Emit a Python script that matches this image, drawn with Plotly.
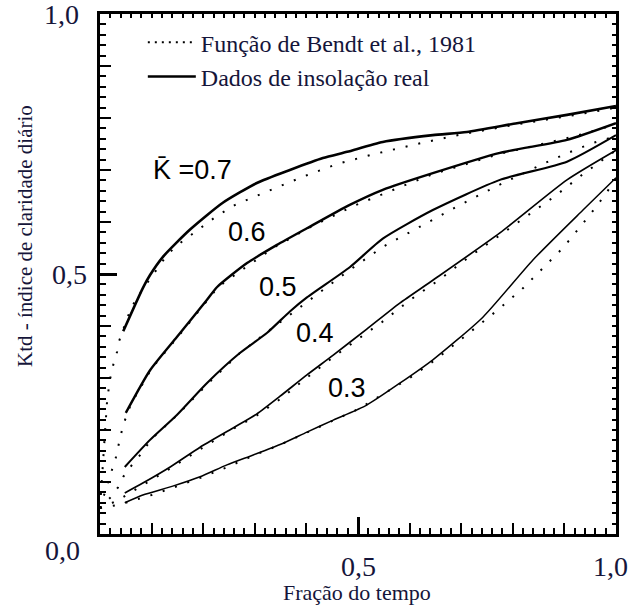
import plotly.graph_objects as go

# ---------------- data ----------------
# Solid curves: "Dados de insolação real"
frac_07 = [0.045, 0.083, 0.097, 0.122, 0.174, 0.238, 0.304, 0.368, 0.432, 0.479, 0.548, 0.645, 0.711, 0.808, 0.905, 1.0]
ktd_07 = [0.390, 0.473, 0.498, 0.533, 0.585, 0.637, 0.675, 0.700, 0.723, 0.735, 0.754, 0.767, 0.773, 0.790, 0.806, 0.823]

frac_06 = [0.050, 0.097, 0.149, 0.207, 0.227, 0.285, 0.343, 0.401, 0.484, 0.548, 0.645, 0.775, 0.905, 1.0]
ktd_06 = [0.233, 0.315, 0.379, 0.450, 0.475, 0.521, 0.556, 0.588, 0.633, 0.662, 0.694, 0.733, 0.758, 0.790]

frac_05 = [0.048, 0.097, 0.149, 0.207, 0.271, 0.324, 0.368, 0.401, 0.484, 0.548, 0.645, 0.775, 0.905, 1.0]
ktd_05 = [0.129, 0.181, 0.229, 0.290, 0.348, 0.387, 0.428, 0.455, 0.513, 0.568, 0.623, 0.681, 0.716, 0.767]

frac_04 = [0.048, 0.083, 0.136, 0.194, 0.258, 0.304, 0.349, 0.401, 0.452, 0.517, 0.581, 0.645, 0.775, 0.905, 1.0]
ktd_04 = [0.079, 0.098, 0.129, 0.167, 0.204, 0.231, 0.265, 0.306, 0.344, 0.394, 0.444, 0.488, 0.579, 0.681, 0.738]

frac_03 = [0.048, 0.083, 0.141, 0.194, 0.246, 0.297, 0.349, 0.401, 0.452, 0.517, 0.581, 0.645, 0.742, 0.839, 0.936, 1.0]
ktd_03 = [0.060, 0.075, 0.092, 0.110, 0.133, 0.152, 0.172, 0.196, 0.219, 0.248, 0.290, 0.335, 0.417, 0.527, 0.623, 0.685]

# Dotted curves: "Função de Bendt et al., 1981"
bfrac_07 = [0.0, 0.003, 0.006, 0.010, 0.014, 0.020, 0.027, 0.033, 0.037, 0.058, 0.068, 0.083, 0.126, 0.145, 0.171, 0.198,
            0.227, 0.262, 0.302, 0.349, 0.401, 0.461, 0.533, 0.614, 0.703, 0.810, 0.934, 1.0]
bktd_07 = [0.05, 0.10, 0.15, 0.20, 0.26, 0.30, 0.331, 0.350, 0.371, 0.429, 0.448, 0.471, 0.531, 0.552, 0.571, 0.590,
           0.612, 0.633, 0.650, 0.669, 0.690, 0.712, 0.731, 0.750, 0.769, 0.788, 0.808, 0.820]

bfrac_06 = [0.0, 0.008, 0.016, 0.024, 0.031, 0.035, 0.041, 0.045, 0.060, 0.100, 0.150, 0.229, 0.281, 0.339, 0.411,
            0.492, 0.591, 0.645, 0.775, 0.921, 1.0]
bktd_06 = [0.05, 0.075, 0.10, 0.125, 0.148, 0.167, 0.19, 0.21, 0.25, 0.318, 0.378, 0.475, 0.512, 0.552, 0.592,
           0.631, 0.671, 0.692, 0.731, 0.765, 0.788]

bfrac_05 = [0.0, 0.012, 0.025, 0.035, 0.045, 0.062, 0.078, 0.10, 0.15, 0.21, 0.27, 0.33, 0.40, 0.48, 0.548, 0.618,
            0.694, 0.773, 0.859, 0.907, 0.955, 1.0]
bktd_05 = [0.05, 0.062, 0.075, 0.09, 0.110, 0.133, 0.152, 0.183, 0.229, 0.29, 0.347, 0.393, 0.445, 0.505, 0.552, 0.590,
           0.631, 0.671, 0.712, 0.733, 0.752, 0.765]

bfrac_04 = [0.0, 0.02, 0.04, 0.06, 0.083, 0.136, 0.194, 0.258, 0.304, 0.35, 0.40, 0.452, 0.50, 0.547, 0.601, 0.659,
            0.713, 0.769, 0.826, 0.882, 0.936, 1.0]
bktd_04 = [0.05, 0.058, 0.068, 0.08, 0.094, 0.126, 0.163, 0.202, 0.228, 0.26, 0.30, 0.34, 0.375, 0.408, 0.450, 0.490,
           0.531, 0.571, 0.610, 0.650, 0.692, 0.738]

bfrac_03 = [0.0, 0.03, 0.06, 0.10, 0.15, 0.20, 0.25, 0.30, 0.35, 0.40, 0.45, 0.50, 0.55, 0.60, 0.65, 0.721, 0.771,
            0.818, 0.859, 0.897, 0.930, 0.963, 0.992, 1.0]
bktd_03 = [0.05, 0.055, 0.063, 0.075, 0.092, 0.11, 0.13, 0.152, 0.172, 0.195, 0.218, 0.24, 0.27, 0.30, 0.335, 0.392,
           0.431, 0.471, 0.512, 0.55, 0.590, 0.631, 0.671, 0.68]

curve_labels = ["K\u0304 =0.7", "0.6", "0.5", "0.4", "0.3"]
label_x = [0.18, 0.285, 0.345, 0.417, 0.479]
label_y = [0.70, 0.581, 0.475, 0.387, 0.281]

legend_names = ["Função de Bendt et al., 1981", "Dados de insolação real"]
x_title = "Fração do tempo"
y_title = "Ktd - índice de claridade diário"
x_tick_vals = [0.5, 1.0]
x_tick_text = ["0,5", "1,0"]
y_tick_vals = [0.5, 1.0]
y_tick_text = ["0,5", "1,0"]
origin_text = "0,0"

# ---------------- figure ----------------
W, H = 632, 605
ML, MR, MT, MB = 100, 16, 14, 71
PW, PH = W - ML - MR, H - MT - MB

TXT = "#15153a"
SERIF = "Liberation Serif, Times New Roman, serif"
SANS = "Liberation Sans Narrow, Arial Narrow, Liberation Sans, Arial, sans-serif"

fig = go.Figure()

solid = [(frac_07, ktd_07, 2.6), (frac_06, ktd_06, 2.4), (frac_05, ktd_05, 2.1),
         (frac_04, ktd_04, 1.7), (frac_03, ktd_03, 1.5)]
dotted = [(bfrac_07, bktd_07), (bfrac_06, bktd_06), (bfrac_05, bktd_05),
          (bfrac_04, bktd_04), (bfrac_03, bktd_03)]

# dotted (Bendt) curves live on the overlay axes x3/y3
for bx, by in dotted:
    fig.add_trace(go.Scatter(x=bx, y=by, mode="lines", showlegend=False, hoverinfo="skip",
                             xaxis="x3", yaxis="y3",
                             line=dict(color="black", width=2, dash="2px,11px")))
# measured curves on the main axes
for sx, sy, w in solid:
    fig.add_trace(go.Scatter(x=sx, y=sy, mode="lines", showlegend=False, hoverinfo="skip",
                             line=dict(color="black", width=w, shape="spline", smoothing=0.6)))

# legend-only entries (on overlay axes x2/y2)
fig.add_trace(go.Scatter(x=[None], y=[None], mode="lines", name=legend_names[0], legendgroup="a",
                         xaxis="x2", yaxis="y2",
                         line=dict(color="black", width=2, dash="2px,5px")))
fig.add_trace(go.Scatter(x=[None], y=[None], mode="lines", name=legend_names[1], legendgroup="b",
                         xaxis="x2", yaxis="y2",
                         line=dict(color="black", width=2.6)))

common = dict(range=[0, 1], showgrid=False, zeroline=False, showticklabels=False)

main_axis = dict(common, showline=True, linewidth=2.8, linecolor="black", mirror=True,
                 ticks="inside", tickmode="linear", tick0=0, dtick=0.1,
                 ticklen=11, tickwidth=2, tickcolor="black",
                 minor=dict(ticks="inside", tick0=0, dtick=0.02, ticklen=6,
                            tickwidth=1.5, tickcolor="black"))
half_axis = dict(common, showline=False, ticks="inside", tickmode="array", tickvals=[0.5],
                 ticklen=17, tickwidth=2.8, tickcolor="black")
fine_axis = dict(common, showline=False, ticks="inside", tickmode="linear", tick0=0, dtick=0.02,
                 ticklen=4, tickwidth=1.8, tickcolor="black")

fig.update_layout(
    width=W, height=H,
    margin=dict(l=ML, r=MR, t=MT, b=MB),
    paper_bgcolor="white", plot_bgcolor="white",
    xaxis=main_axis,
    yaxis=main_axis,
    xaxis2=dict(fine_axis, overlaying="x", side="top", anchor="y2"),
    yaxis2=dict(fine_axis, overlaying="y", side="right", anchor="x2"),
    xaxis3=dict(half_axis, overlaying="x", side="bottom", anchor="y3"),
    yaxis3=dict(half_axis, overlaying="y", side="left", anchor="x3"),
    showlegend=True,
    legend=dict(x=0.083, y=0.988, xanchor="left", yanchor="top", bgcolor="rgba(0,0,0,0)",
                font=dict(family=SERIF, size=24, color=TXT), itemwidth=48,
                tracegroupgap=0, traceorder="grouped"),
)

def px2paper_x(px):
    return (px - ML) / PW

def px2paper_y(py):
    return (H - MB - py) / PH

annots = []
# curve labels
for t, lx, ly in zip(curve_labels, label_x, label_y):
    annots.append(dict(x=lx, y=ly, xref="x", yref="y", text=t, showarrow=False,
                       font=dict(family=SANS, size=27, color="black")))
# x tick labels
x_label_cx = {0.5: 358, 1.0: 610}
for v, t in zip(x_tick_vals, x_tick_text):
    annots.append(dict(x=px2paper_x(x_label_cx[v]), y=px2paper_y(566), xref="paper", yref="paper", text=t,
                       showarrow=False, xanchor="center", yanchor="middle",
                       font=dict(family=SERIF, size=28, color=TXT)))
# y tick labels
y_label_cx = {0.5: 69, 1.0: 61}
for v, t in zip(y_tick_vals, y_tick_text):
    annots.append(dict(x=px2paper_x(y_label_cx[v]), y=v, xref="paper", yref="y", text=t, showarrow=False,
                       xanchor="center", yanchor="middle", font=dict(family=SERIF, size=28, color=TXT)))
annots.append(dict(x=px2paper_x(62), y=px2paper_y(550), xref="paper", yref="paper", text=origin_text,
                   showarrow=False, xanchor="center", yanchor="middle",
                   font=dict(family=SERIF, size=28, color=TXT)))
# axis titles
annots.append(dict(x=px2paper_x(357), y=px2paper_y(592), xref="paper", yref="paper", text=x_title,
                   showarrow=False, xanchor="center", yanchor="middle",
                   font=dict(family=SERIF, size=22, color=TXT)))
annots.append(dict(x=px2paper_x(25), y=px2paper_y(236), xref="paper", yref="paper", text=y_title,
                   showarrow=False, xanchor="center", yanchor="middle", textangle=-90,
                   font=dict(family=SERIF, size=21, color=TXT)))
fig.update_layout(annotations=annots)

fig.write_html("out.html")
